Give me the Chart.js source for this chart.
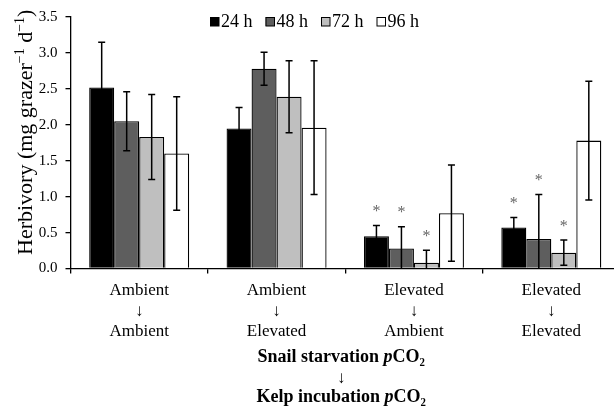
<!DOCTYPE html>
<html>
<head>
<meta charset="utf-8">
<script src="https://cdn.jsdelivr.net/npm/chart.js@4/dist/chart.umd.min.js"></script>
<style>
  html, body { margin: 0; padding: 0; background: #fff; overflow: hidden; width: 614px; height: 407px; }
  canvas { display: block; }
</style>
</head>
<body>
<canvas id="herbivory" width="624" height="407"></canvas>
<script>
// Treatment groups: snail starvation pCO2 -> kelp incubation pCO2
const categories = [
  ['Ambient', '↓', 'Ambient'],
  ['Ambient', '↓', 'Elevated'],
  ['Elevated', '↓', 'Ambient'],
  ['Elevated', '↓', 'Elevated']
];
const seriesNames = ['24 h', '48 h', '72 h', '96 h'];

// Mean herbivory (mg grazer^-1 d^-1)
const mean24 = [2.52, 1.95, 0.45, 0.57];
const mean48 = [2.05, 2.78, 0.28, 0.41];
const mean72 = [1.83, 2.39, 0.08, 0.22];
const mean96 = [1.60, 1.96, 0.77, 1.78];

// Error bar half-lengths
const err24 = [0.63, 0.29, 0.15, 0.14];
const err48 = [0.41, 0.23, 0.30, 0.62];
const err72 = [0.59, 0.50, 0.175, 0.175];
const err96 = [0.79, 0.93, 0.67, 0.825];

// Significance markers (*)
const sig24 = [false, false, true, true];
const sig48 = [false, false, true, true];
const sig72 = [false, false, true, true];
const sig96 = [false, false, false, false];

const yTicks = { min: 0, max: 3.5, step: 0.5 };

const SERIF = '"Liberation Serif", "Times New Roman", serif';
const fills = ['#000000', '#5e5e5e', '#bfbfbf', '#ffffff'];

const means = [mean24, mean48, mean72, mean96];
const errs = [err24, err48, err72, err96];
const sigs = [sig24, sig48, sig72, sig96];

const datasets = seriesNames.map((name, k) => ({
  label: name,
  data: means[k],
  errors: errs[k],
  sig: sigs[k],
  backgroundColor: fills[k],
  borderColor: '#000',
  borderWidth: 1.3,
  barPercentage: 1.0,
  categoryPercentage: 0.728
}));

// Draws error bars, asterisks, legend and the axis titles with mixed styling
const decorations = {
  id: 'decorations',
  afterDatasetsDraw(chart) {
    const ctx = chart.ctx;
    const y = chart.scales.y;
    chart.data.datasets.forEach((ds, di) => {
      const meta = chart.getDatasetMeta(di);
      meta.data.forEach((bar, i) => {
        const m = ds.data[i], e = ds.errors[i];
        const low = m - e;
        const yTop = y.getPixelForValue(m + e);
        const yBot = y.getPixelForValue(Math.max(0, low));
        ctx.save();
        ctx.strokeStyle = '#000';
        ctx.lineWidth = 1.5;
        ctx.beginPath();
        ctx.moveTo(bar.x, yTop);
        ctx.lineTo(bar.x, yBot);
        ctx.moveTo(bar.x - 3.5, yTop);
        ctx.lineTo(bar.x + 3.5, yTop);
        if (low > 0) {
          ctx.moveTo(bar.x - 3.5, yBot);
          ctx.lineTo(bar.x + 3.5, yBot);
        }
        ctx.stroke();
        if (ds.sig[i]) {
          ctx.fillStyle = '#666';
          ctx.font = '16px ' + SERIF;
          ctx.textAlign = 'center';
          ctx.textBaseline = 'alphabetic';
          ctx.fillText('*', bar.x, yTop - 17 + 7.5);
        }
        ctx.restore();
      });
    });
  },
  afterDraw(chart) {
    const ctx = chart.ctx;
    const area = chart.chartArea;

    // legend
    ctx.save();
    ctx.font = '18px ' + SERIF;
    ctx.textBaseline = 'alphabetic';
    ctx.textAlign = 'left';
    let lx = 210;
    chart.data.datasets.forEach(ds => {
      ctx.fillStyle = ds.backgroundColor;
      ctx.fillRect(lx, 17, 9, 9);
      ctx.strokeStyle = '#000';
      ctx.lineWidth = 1;
      ctx.strokeRect(lx + 0.5, 17.5, 8.5, 8.5);
      ctx.fillStyle = '#000';
      ctx.fillText(ds.label, lx + 11, 26.5);
      lx += 11 + ctx.measureText(ds.label).width + 13;
    });
    ctx.restore();

    // y-axis title with superscripts
    ctx.save();
    ctx.translate(32, 255);
    ctx.rotate(-Math.PI / 2);
    ctx.fillStyle = '#000';
    ctx.textBaseline = 'alphabetic';
    ctx.textAlign = 'left';
    const ySegs = [
      { t: 'Herbivory (mg grazer', sup: false },
      { t: '−1', sup: true },
      { t: ' d', sup: false },
      { t: '−1', sup: true },
      { t: ')', sup: false }
    ];
    let tx = 0;
    ySegs.forEach(s => {
      ctx.font = (s.sup ? '14px ' : '22px ') + SERIF;
      ctx.fillText(s.t, tx, s.sup ? -8 : 0);
      tx += ctx.measureText(s.t).width;
    });
    ctx.restore();

    // x-axis title (bold, with italic p)
    const cx = (area.left + area.right) / 2 - 4;
    const lineSegs = (label) => [
      { t: label, f: 'bold 18px ' },
      { t: 'p', f: 'italic bold 18px ' },
      { t: 'CO', f: 'bold 18px ' },
      { t: '₂', f: 'bold 18px ' }
    ];
    const drawLine = (segs, baseY) => {
      let w = 0;
      segs.forEach(s => { ctx.font = s.f + SERIF; w += ctx.measureText(s.t).width; });
      let x = cx - w / 2;
      segs.forEach(s => {
        ctx.font = s.f + SERIF;
        ctx.fillText(s.t, x, baseY);
        x += ctx.measureText(s.t).width;
      });
    };
    ctx.save();
    ctx.fillStyle = '#000';
    ctx.textBaseline = 'alphabetic';
    ctx.textAlign = 'left';
    drawLine(lineSegs('Snail starvation '), 361.5);
    ctx.font = 'bold 17px ' + SERIF;
    ctx.textAlign = 'center';
    ctx.fillText('↓', cx, 383);
    ctx.textAlign = 'left';
    drawLine(lineSegs('Kelp incubation '), 401.5);
    ctx.restore();
  }
};

new Chart(document.getElementById('herbivory'), {
  type: 'bar',
  data: { labels: categories, datasets },
  options: {
    responsive: false,
    devicePixelRatio: 1,
    animation: false,
    layout: { padding: { top: 15.5, right: 4, bottom: 0, left: 0 } },
    plugins: {
      legend: { display: false },
      title: { display: false },
      tooltip: { enabled: false }
    },
    scales: {
      x: {
        offset: true,
        grid: { offset: true, drawOnChartArea: false, tickLength: 5, color: '#000', lineWidth: 1.3 },
        border: { color: '#000', width: 1.3 },
        ticks: {
          color: '#000',
          font: { family: SERIF, size: 17, lineHeight: 1.2 },
          padding: 7,
          maxRotation: 0,
          autoSkip: false
        },
        afterFit(scale) { scale.height = 138.5; }
      },
      y: {
        min: yTicks.min,
        max: yTicks.max,
        grid: { drawOnChartArea: false, tickLength: 5, color: '#000', lineWidth: 1.3 },
        border: { color: '#000', width: 1.3 },
        ticks: {
          stepSize: yTicks.step,
          color: '#000',
          font: { family: SERIF, size: 15 },
          padding: 8,
          callback: v => Number(v).toFixed(1)
        },
        afterFit(scale) { scale.width = 70.5; }
      }
    }
  },
  plugins: [decorations]
});
</script>
</body>
</html>
